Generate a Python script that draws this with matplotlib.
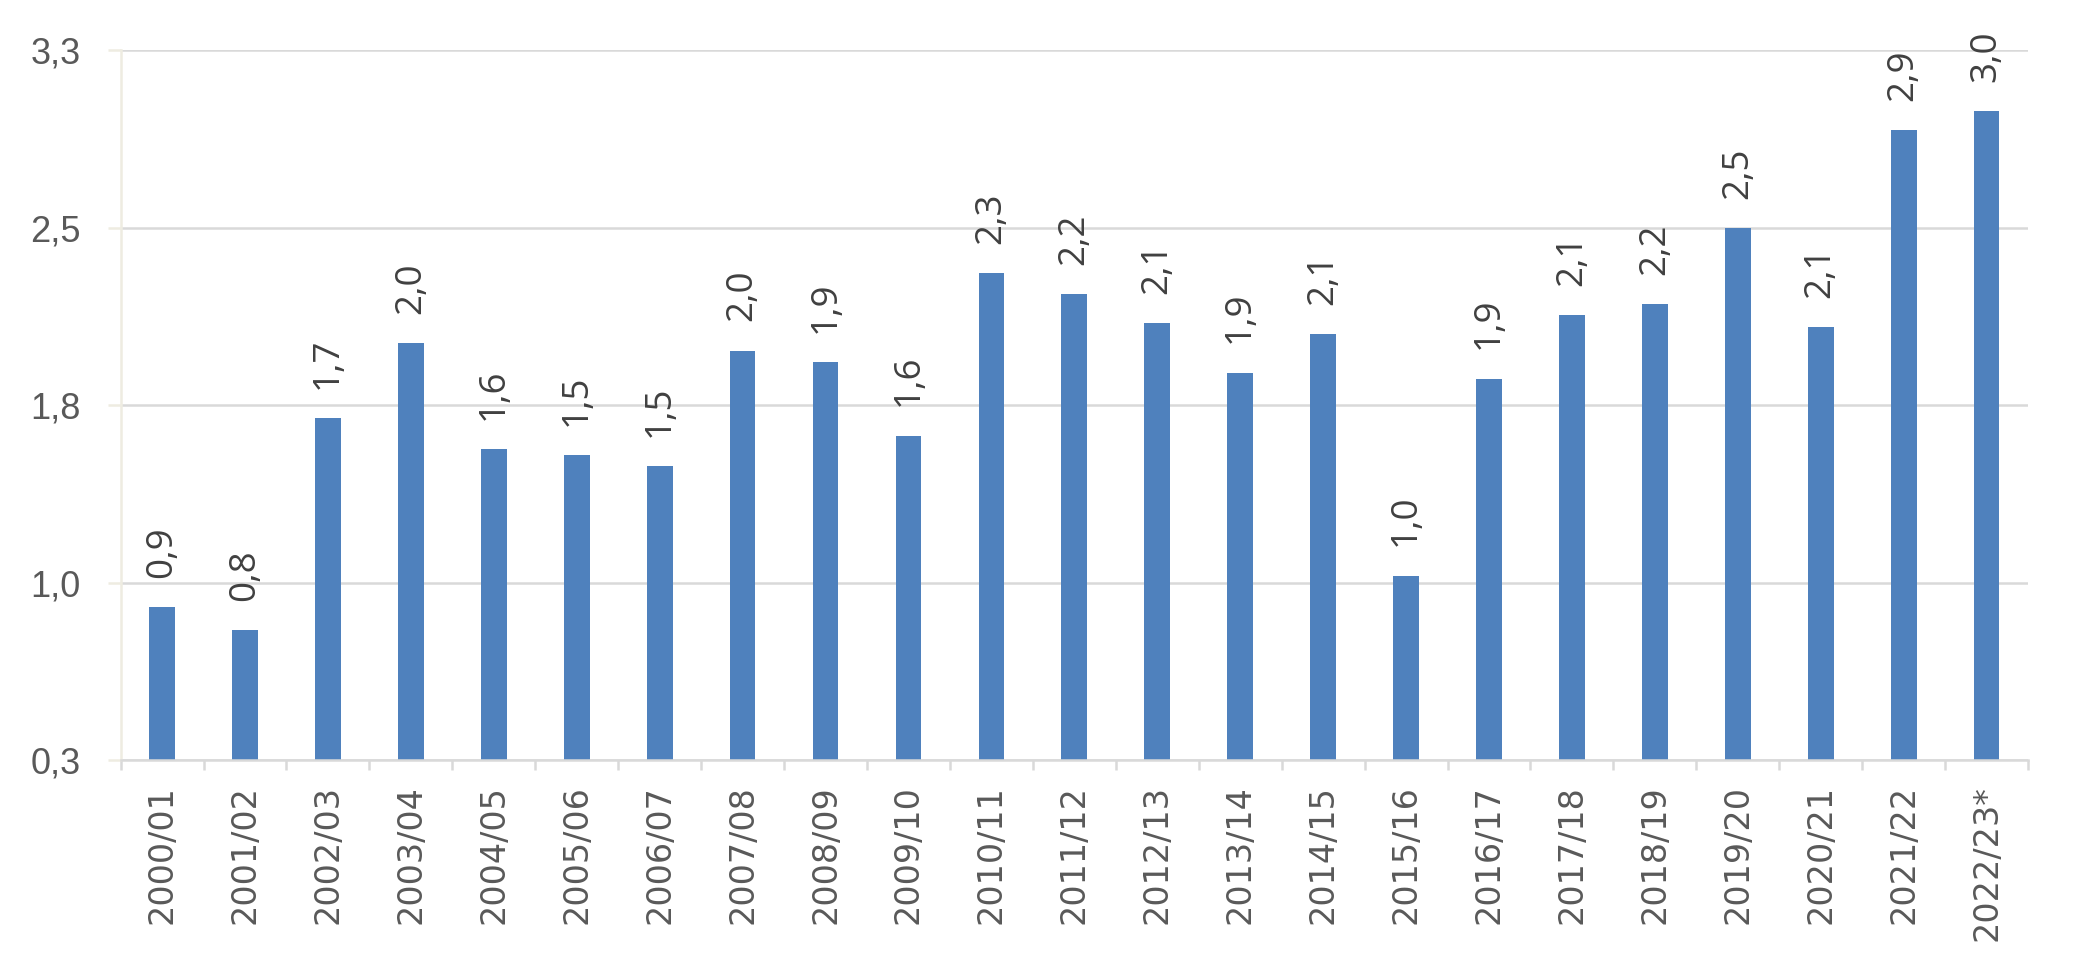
import matplotlib
matplotlib.use("Agg")
import matplotlib.pyplot as plt
import numpy as np

# Seasons and values
seasons = [
    "2000/01", "2001/02", "2002/03", "2003/04", "2004/05", "2005/06",
    "2006/07", "2007/08", "2008/09", "2009/10", "2010/11", "2011/12",
    "2012/13", "2013/14", "2014/15", "2015/16", "2016/17", "2017/18",
    "2018/19", "2019/20", "2020/21", "2021/22", "2022/23*",
]
values = [
    0.895, 0.80, 1.696, 2.013, 1.565, 1.54,
    1.493, 1.981, 1.931, 1.622, 2.309, 2.22,
    2.098, 1.888, 2.051, 1.03, 1.863, 2.132,
    2.176, 2.499, 2.081, 2.914, 2.994,
]
y_ticks = [0.25, 1.0, 1.75, 2.5, 3.25]
y_tick_labels = ["0,3", "1,0", "1,8", "2,5", "3,3"]

BAR = "#4F81BD"
GRID = "#D9D9D9"
YAXIS = "#EEECE1"
TICK_TXT = "#595959"
LABEL_TXT = "#404040"

fig = plt.figure(figsize=(20.79, 9.74), dpi=100)
ax = fig.add_axes([0.058, 0.2197, 0.9175, 0.7285])

x = np.arange(len(seasons))
bars = ax.bar(x, values, width=0.31, color=BAR, zorder=2)
ax.bar_label(bars, labels=[f"{v:.1f}".replace(".", ",") for v in values],
             rotation=90, padding=21, fontsize=26.5, color=LABEL_TXT,
             family="Open Sans")

ax.set_xlim(-0.5, len(seasons) - 0.5)
ax.set_ylim(y_ticks[0], y_ticks[-1])

# y axis
ax.set_yticks(y_ticks)
ax.set_yticklabels(y_tick_labels, fontsize=26, color=TICK_TXT,
                   family="Liberation Sans")
ax.tick_params(axis="y", length=9.5, width=1.8, color=YAXIS, pad=19)
ax.yaxis.grid(True, color=GRID, lw=1.8, zorder=0)

# x axis: labels at centres, tick marks between categories
ax.set_xticks(x)
ax.set_xticklabels(seasons, rotation=90, fontsize=24, color=TICK_TXT,
                   family="DejaVu Sans")
ax.tick_params(axis="x", which="major", length=0, pad=18)
ax.set_xticks(np.arange(len(seasons) + 1) - 0.5, minor=True)
ax.tick_params(axis="x", which="minor", length=7, width=1.8, color=GRID)

for side in ("top", "right"):
    ax.spines[side].set_visible(False)
ax.spines["left"].set_color(YAXIS)
ax.spines["left"].set_linewidth(1.8)
ax.spines["bottom"].set_color(GRID)
ax.spines["bottom"].set_linewidth(1.8)
ax.set_axisbelow(True)

fig.savefig("out.png", dpi=100)
